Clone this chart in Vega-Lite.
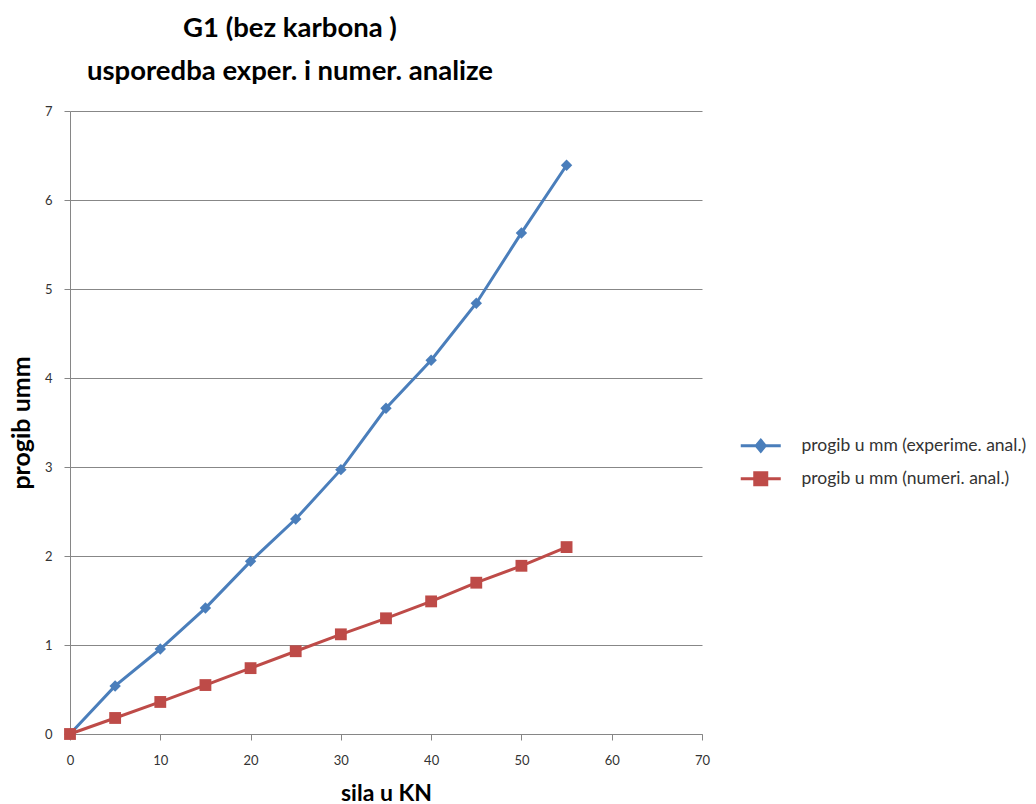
{
  "$schema": "https://vega.github.io/schema/vega-lite/v6.json",
  "autosize": "none",
  "width": 632,
  "height": 623,
  "padding": {"left": 70, "top": 111, "right": 334, "bottom": 70},
  "background": "white",
  "config": {"view": {"stroke": null}, "font": "Lato"},
  "title": {
    "text": ["G1 (bez karbona )", "usporedba exper. i numer. analize"],
    "font": "Lato",
    "fontSize": 27.5,
    "fontWeight": "bold",
    "color": "#000000",
    "anchor": "middle",
    "dx": -96,
    "lineHeight": 43,
    "offset": 20
  },
  "data": {
    "values": [
      {"sila": 0, "progib": 0, "serija": "progib u mm (experime. anal.)"},
      {"sila": 5, "progib": 0.54, "serija": "progib u mm (experime. anal.)"},
      {"sila": 10, "progib": 0.955, "serija": "progib u mm (experime. anal.)"},
      {"sila": 15, "progib": 1.415, "serija": "progib u mm (experime. anal.)"},
      {"sila": 20, "progib": 1.94, "serija": "progib u mm (experime. anal.)"},
      {"sila": 25, "progib": 2.415, "serija": "progib u mm (experime. anal.)"},
      {"sila": 30, "progib": 2.97, "serija": "progib u mm (experime. anal.)"},
      {"sila": 35, "progib": 3.66, "serija": "progib u mm (experime. anal.)"},
      {"sila": 40, "progib": 4.2, "serija": "progib u mm (experime. anal.)"},
      {"sila": 45, "progib": 4.84, "serija": "progib u mm (experime. anal.)"},
      {"sila": 50, "progib": 5.63, "serija": "progib u mm (experime. anal.)"},
      {"sila": 55, "progib": 6.39, "serija": "progib u mm (experime. anal.)"},
      {"sila": 0, "progib": 0, "serija": "progib u mm (numeri. anal.)"},
      {"sila": 5, "progib": 0.18, "serija": "progib u mm (numeri. anal.)"},
      {"sila": 10, "progib": 0.36, "serija": "progib u mm (numeri. anal.)"},
      {"sila": 15, "progib": 0.55, "serija": "progib u mm (numeri. anal.)"},
      {"sila": 20, "progib": 0.74, "serija": "progib u mm (numeri. anal.)"},
      {"sila": 25, "progib": 0.93, "serija": "progib u mm (numeri. anal.)"},
      {"sila": 30, "progib": 1.12, "serija": "progib u mm (numeri. anal.)"},
      {"sila": 35, "progib": 1.3, "serija": "progib u mm (numeri. anal.)"},
      {"sila": 40, "progib": 1.49, "serija": "progib u mm (numeri. anal.)"},
      {"sila": 45, "progib": 1.7, "serija": "progib u mm (numeri. anal.)"},
      {"sila": 50, "progib": 1.89, "serija": "progib u mm (numeri. anal.)"},
      {"sila": 55, "progib": 2.1, "serija": "progib u mm (numeri. anal.)"}
    ]
  },
  "encoding": {
    "x": {
      "field": "sila",
      "type": "quantitative",
      "scale": {"domain": [0, 70], "nice": false, "zero": true},
      "axis": {
        "title": "sila u KN",
        "values": [0, 10, 20, 30, 40, 50, 60, 70],
        "grid": false,
        "labelFlush": false,
        "domainColor": "#868686",
        "tickColor": "#868686",
        "tickSize": 6,
        "labelPadding": 14,
        "labelFont": "Lato",
        "labelFontSize": 13,
        "labelColor": "#333333",
        "titleFont": "Lato",
        "titleFontSize": 23,
        "titleFontWeight": "bold",
        "titleColor": "#000000",
        "titlePadding": 15
      }
    },
    "y": {
      "field": "progib",
      "type": "quantitative",
      "scale": {"domain": [0, 7], "nice": false},
      "axis": {
        "title": "progib umm",
        "values": [0, 1, 2, 3, 4, 5, 6, 7],
        "grid": true,
        "labelFlush": false,
        "gridColor": "#878787",
        "gridOpacity": 1,
        "domainColor": "#868686",
        "tickColor": "#868686",
        "tickSize": 6,
        "labelPadding": 12,
        "labelFont": "Lato",
        "labelFontSize": 13,
        "labelColor": "#333333",
        "titleFont": "Lato",
        "titleFontSize": 25,
        "titleFontWeight": "bold",
        "titleColor": "#000000",
        "titlePadding": 10
      }
    },
    "color": {
      "field": "serija",
      "type": "nominal",
      "scale": {
        "domain": ["progib u mm (experime. anal.)", "progib u mm (numeri. anal.)"],
        "range": ["#4a7ebb", "#be4b48"]
      },
      "legend": {
        "title": null,
        "orient": "none",
        "legendX": 682,
        "legendY": 326,
        "symbolSize": 100,
        "labelOffset": 32,
        "labelLimit": 500,
        "labelFont": "Lato",
        "labelFontSize": 17.5,
        "labelColor": "#333333",
        "rowPadding": 8,
        "encode": {
          "symbols": {
            "update": {
              "shape": {"signal": "datum.value === 'progib u mm (experime. anal.)' ? 'M-4,0H4M0,-1.1L0.9,0L0,1.1L-0.9,0Z' : 'M-4,0H4M-1.2,-1.2H1.2V1.2H-1.2Z'"},
              "fill": {"signal": "scale('color', datum.value)"},
              "stroke": {"signal": "scale('color', datum.value)"},
              "strokeWidth": {"value": 3},
              "fillOpacity": {"value": 1},
              "opacity": {"value": 1}
            }
          }
        }
      }
    }
  },
  "layer": [
    {
      "mark": {"type": "line", "strokeWidth": 3}
    },
    {
      "transform": [{"filter": "datum.serija === 'progib u mm (experime. anal.)'"}],
      "mark": {"type": "point", "shape": "diamond", "filled": true, "opacity": 1, "size": 130}
    },
    {
      "transform": [{"filter": "datum.serija === 'progib u mm (numeri. anal.)'"}],
      "mark": {"type": "point", "shape": "square", "filled": true, "opacity": 1, "size": 140}
    }
  ]
}
